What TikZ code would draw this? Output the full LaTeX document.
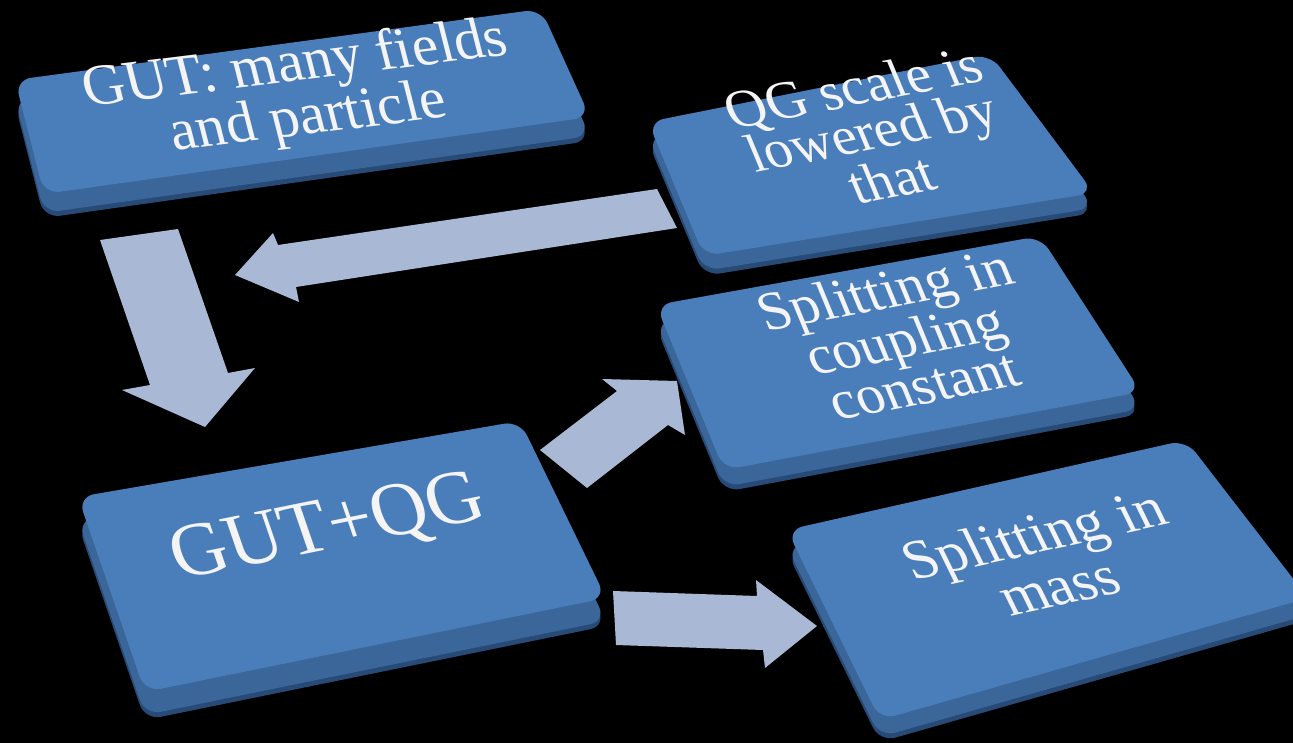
\documentclass[tikz,border=0pt]{standalone}
\usepackage{fontspec}
\setmainfont{Liberation Serif}
\definecolor{topc}{HTML}{4A7EBB}
\definecolor{sidec}{HTML}{3A6699}
\definecolor{edgec}{HTML}{284A76}
\definecolor{arrc}{HTML}{A9B9D5}
\definecolor{txtc}{HTML}{F4F4F4}
\tikzset{
  boxtop/.style={fill=topc, rounded corners=16pt},
  boxside/.style={fill=sidec, rounded corners=16pt},
  boxedge/.style={fill=edgec, rounded corners=16pt},
  blockarrow/.style={fill=arrc},
  lbl/.style={text=txtc, align=center, inner sep=0pt},
}
% #1..#4 corners (image coords), #5 thickness
\newcommand\keybox[5]{%
  \fill[boxedge, yshift=-#5pt] #1 -- #2 -- #3 -- #4 -- cycle;
  \fill[boxside, yshift=-#5pt+5pt] #1 -- #2 -- #3 -- #4 -- cycle;
  \fill[boxtop] #1 -- #2 -- #3 -- #4 -- cycle;
}
% #1 name, #2 position, #3 matrix a,b,c,d, #4 size, #5 skip, #6 text
\newcommand\keylabel[6]{%
  \node[lbl, cm={#3,(0,0)}, font=\fontsize{#4}{#5}\selectfont] (#1) at #2 {#6};
}
\begin{document}
\begin{tikzpicture}[x=1pt, y=-1pt]
  \fill[black] (0,0) rectangle (1293,743);
  \useasboundingbox (0,0) rectangle (1293,743);

  % block arrows
  \fill[blockarrow] (100,240) -- (178,229) -- (228,373) -- (255,368) -- (205,427)
        -- (122,390) -- (150,385) -- cycle;
  \fill[blockarrow] (657,189) -- (677,228) -- (296,287) -- (299,302) -- (235,275)
        -- (273,233) -- (278,245) -- cycle;
  \fill[blockarrow] (540,450) -- (587,488) -- (668,425) -- (685,435) -- (677,381)
        -- (602,379) -- (617,391) -- cycle;
  \fill[blockarrow] (613,591) -- (757,596) -- (756,580) -- (817,626) -- (765,668)
        -- (763,650) -- (616,645) -- cycle;

  % boxes
  \keybox{(15,80)}{(541,9)}{(590,117)}{(44,194)}{24}
  \keybox{(648,122)}{(990,54)}{(1094,193)}{(704,256)}{20}
  \keybox{(656,305)}{(1040,236)}{(1141,392)}{(724,470)}{22}
  \keybox{(787,530)}{(1186,440)}{(1308,598)}{(880,720)}{22}
  \keybox{(78,497)}{(520,421)}{(606,598)}{(145,692)}{28}

  % labels
  \keylabel{A}{(302,93)}{0.993,0.122,-0.247,0.969}{59}{47}{GUT: many fields\\and particle}
  \keylabel{B}{(872,133)}{0.982,0.191,-0.385,0.923}{56}{48}{QG scale is\\lowered by\\that}
  \keylabel{C}{(904,337)}{0.982,0.191,-0.381,0.925}{57}{50}{Splitting in\\coupling\\constant}
  \keylabel{D}{(1046,560)}{0.976,0.216,-0.44,0.898}{59}{58}{Splitting in\\mass}
  \keylabel{E}{(328,530)}{0.980,0.199,-0.325,0.946}{78}{80}{GUT+QG}
\end{tikzpicture}
\end{document}
